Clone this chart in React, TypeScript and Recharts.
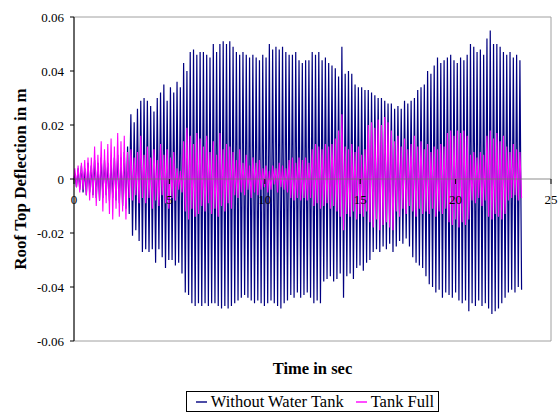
import { LineChart, Line, XAxis, YAxis, ReferenceLine, ReferenceArea, ReferenceDot } from 'recharts';

const W = 558;
const H = 419;
const PLOT_LEFT = 74;
const PLOT_RIGHT = 7;
const FONT = '"Liberation Serif", "Times New Roman", serif';

const xTicks = [0, 5, 10, 15, 20, 25];
const yTicks = [-0.06, -0.04, -0.02, 0, 0.02, 0.04, 0.06];
const seriesNames = ['Without Water Tank', 'Tank Full'];
const seriesColors = ['#000080', '#FF00FF'];

// time between a crest and the following trough (s)
const HALF_CYCLE = 0.0864;

// roof deflection crests / troughs per cycle (m)
const withoutPeaks = [
  0.002, 0.004, 0.005, 0.004, 0.006, 0.005, 0.007, 0.006, 0.008, 0.007,
  0.006, 0.007, 0.008, 0.009, 0.008, 0.010, 0.012, 0.024, 0.021, 0.026,
  0.029, 0.030, 0.029, 0.027, 0.025, 0.030, 0.032, 0.035, 0.029, 0.034,
  0.032, 0.036, 0.034, 0.043, 0.040, 0.047, 0.048, 0.046, 0.047, 0.047,
  0.046, 0.045, 0.050, 0.047, 0.050, 0.051, 0.050, 0.051, 0.049, 0.047,
  0.046, 0.047, 0.046, 0.045, 0.046, 0.045, 0.044, 0.046, 0.045, 0.050,
  0.048, 0.049, 0.048, 0.049, 0.047, 0.046, 0.046, 0.047, 0.044, 0.043,
  0.044, 0.044, 0.047, 0.046, 0.047, 0.044, 0.045, 0.043, 0.042, 0.041,
  0.038, 0.049, 0.039, 0.040, 0.039, 0.035, 0.034, 0.034, 0.033, 0.033,
  0.032, 0.031, 0.030, 0.030, 0.029, 0.028, 0.028, 0.026, 0.027, 0.026,
  0.029, 0.028, 0.029, 0.030, 0.033, 0.034, 0.035, 0.040, 0.039, 0.042,
  0.045, 0.043, 0.044, 0.045, 0.046, 0.044, 0.043, 0.045, 0.044, 0.046,
  0.050, 0.049, 0.047, 0.048, 0.046, 0.052, 0.055, 0.050, 0.050, 0.049,
  0.047, 0.046, 0.047, 0.045, 0.046, 0.044,
];
const withoutTroughs = [
  -0.003, -0.004, -0.005, -0.006, -0.005, -0.006, -0.007, -0.008, -0.007, -0.006,
  -0.008, -0.007, -0.008, -0.009, -0.010, -0.011, -0.013, -0.021, -0.019, -0.023,
  -0.027, -0.026, -0.027, -0.026, -0.031, -0.026, -0.029, -0.033, -0.030, -0.030,
  -0.032, -0.031, -0.035, -0.042, -0.043, -0.046, -0.047, -0.046, -0.047, -0.046,
  -0.047, -0.046, -0.046, -0.047, -0.048, -0.047, -0.048, -0.047, -0.046, -0.045,
  -0.044, -0.043, -0.044, -0.045, -0.046, -0.045, -0.046, -0.047, -0.046, -0.045,
  -0.046, -0.047, -0.048, -0.046, -0.045, -0.043, -0.044, -0.042, -0.044, -0.043,
  -0.042, -0.044, -0.046, -0.045, -0.046, -0.038, -0.037, -0.036, -0.038, -0.037,
  -0.035, -0.044, -0.036, -0.035, -0.037, -0.033, -0.032, -0.034, -0.031, -0.030,
  -0.027, -0.026, -0.027, -0.025, -0.026, -0.024, -0.027, -0.025, -0.023, -0.024,
  -0.022, -0.025, -0.029, -0.031, -0.032, -0.033, -0.036, -0.039, -0.040, -0.042,
  -0.041, -0.044, -0.042, -0.043, -0.044, -0.042, -0.045, -0.046, -0.045, -0.049,
  -0.046, -0.047, -0.045, -0.047, -0.046, -0.048, -0.050, -0.049, -0.048, -0.046,
  -0.044, -0.042, -0.041, -0.042, -0.040, -0.041,
];
const fullPeaks = [
  0.004, 0.005, 0.006, 0.007, 0.008, 0.008, 0.012, 0.009, 0.014, 0.011,
  0.013, 0.015, 0.012, 0.017, 0.014, 0.016, 0.010, 0.011, 0.008, 0.010,
  0.016, 0.009, 0.012, 0.008, 0.011, 0.007, 0.013, 0.009, 0.011, 0.008,
  0.010, 0.004, 0.003, 0.014, 0.019, 0.016, 0.013, 0.017, 0.015, 0.012,
  0.016, 0.010, 0.014, 0.009, 0.017, 0.011, 0.013, 0.012, 0.010, 0.007,
  0.011, 0.006, 0.009, 0.005, 0.008, 0.006, 0.007, 0.004, 0.005, 0.003,
  0.005, 0.004, 0.006, 0.005, 0.004, 0.007, 0.008, 0.006, 0.008, 0.007,
  0.008, 0.006, 0.011, 0.013, 0.012, 0.011, 0.013, 0.012, 0.013, 0.015,
  0.018, 0.024, 0.012, 0.011, 0.013, 0.010, 0.012, 0.009, 0.011, 0.020,
  0.021, 0.019, 0.022, 0.020, 0.023, 0.021, 0.018, 0.014, 0.016, 0.012,
  0.015, 0.011, 0.013, 0.016, 0.012, 0.014, 0.011, 0.013, 0.010, 0.012,
  0.011, 0.013, 0.012, 0.017, 0.018, 0.016, 0.018, 0.017, 0.018, 0.016,
  0.009, 0.010, 0.008, 0.010, 0.009, 0.016, 0.018, 0.015, 0.017, 0.014,
  0.016, 0.012, 0.010, 0.013, 0.011, 0.010,
];
const fullTroughs = [
  -0.003, -0.005, -0.004, -0.006, -0.008, -0.007, -0.010, -0.008, -0.012, -0.009,
  -0.013, -0.015, -0.011, -0.014, -0.012, -0.015, -0.007, -0.008, -0.006, -0.009,
  -0.007, -0.009, -0.007, -0.011, -0.008, -0.010, -0.006, -0.009, -0.011, -0.007,
  -0.008, -0.004, -0.005, -0.012, -0.015, -0.011, -0.014, -0.013, -0.010, -0.012,
  -0.009, -0.013, -0.011, -0.014, -0.010, -0.012, -0.009, -0.011, -0.006, -0.007,
  -0.005, -0.006, -0.004, -0.007, -0.005, -0.006, -0.004, -0.003, -0.005, -0.004,
  -0.002, -0.005, -0.003, -0.004, -0.005, -0.007, -0.008, -0.007, -0.008, -0.007,
  -0.008, -0.007, -0.010, -0.009, -0.011, -0.010, -0.009, -0.011, -0.010, -0.012,
  -0.014, -0.019, -0.013, -0.014, -0.012, -0.015, -0.013, -0.014, -0.012, -0.016,
  -0.018, -0.015, -0.019, -0.017, -0.016, -0.018, -0.019, -0.012, -0.014, -0.011,
  -0.013, -0.010, -0.012, -0.014, -0.011, -0.013, -0.012, -0.013, -0.011, -0.014,
  -0.012, -0.013, -0.011, -0.016, -0.017, -0.015, -0.018, -0.016, -0.017, -0.015,
  -0.008, -0.009, -0.007, -0.010, -0.008, -0.014, -0.015, -0.013, -0.014, -0.015,
  -0.013, -0.008, -0.007, -0.006, -0.008, -0.007,
];

type Row = { t: number; without: number; full: number };

const buildRows = (): Row[] => {
  const rows: Row[] = [{ t: 0, without: 0, full: 0 }];
  withoutPeaks.forEach((peak, k) => {
    rows.push({ t: +((2 * k + 0.5) * HALF_CYCLE).toFixed(4), without: peak, full: fullPeaks[k] });
    rows.push({ t: +((2 * k + 1.5) * HALF_CYCLE).toFixed(4), without: withoutTroughs[k], full: fullTroughs[k] });
  });
  return rows;
};

const data = buildRows();

// x axis crosses at y = 0, so its ticks are drawn through the scales as dots
const ZeroAxisTick = (props: any) => {
  const { cx, cy, label } = props;
  if (cx == null || cy == null) return null;
  return (
    <g>
      <line x1={cx} y1={cy} x2={cx} y2={cy + 5} stroke="#000" />
      <text x={cx} y={cy + 25} textAnchor="middle" fontSize={13} fontFamily={FONT} fill="#000">
        {label}
      </text>
    </g>
  );
};

const YTitle = (props: any) => {
  const { viewBox } = props;
  const cx = viewBox.x + 20;
  const cy = viewBox.y + viewBox.height / 2;
  return (
    <text
      x={cx}
      y={cy}
      transform={`rotate(-90 ${cx} ${cy})`}
      textAnchor="middle"
      dominantBaseline="central"
      fontSize={17}
      fontWeight="bold"
      fontFamily={FONT}
      fill="#000"
    >
      Roof Top Deflection in m
    </text>
  );
};

const XTitle = (props: any) => {
  const { viewBox } = props;
  return (
    <text
      x={viewBox.x + viewBox.width / 2}
      y={viewBox.y + 33}
      textAnchor="middle"
      fontSize={16.5}
      fontWeight="bold"
      fontFamily={FONT}
      fill="#000"
    >
      Time in sec
    </text>
  );
};

export default function App() {
  return (
    <div style={{ position: 'absolute', left: 0, top: 0, width: W, height: H, background: '#fff', fontFamily: FONT }}>
      <LineChart width={W} height={H} data={data} margin={{ top: 17, right: PLOT_RIGHT, bottom: 38, left: 0 }}>
        <ReferenceArea x1={0} x2={25} y1={-0.06} y2={0.06} fill="none" stroke="#a0a0a0" />
        <XAxis
          dataKey="t"
          type="number"
          domain={[0, 25]}
          ticks={xTicks}
          tick={false}
          tickLine={false}
          axisLine={false}
          height={40}
          label={XTitle}
        />
        <YAxis
          type="number"
          domain={[-0.06, 0.06]}
          ticks={yTicks}
          interval={0}
          width={PLOT_LEFT}
          tickSize={4}
          tickMargin={6}
          axisLine={{ stroke: '#000' }}
          tickLine={{ stroke: '#000' }}
          tick={{ fill: '#000', fontSize: 13, fontFamily: FONT }}
          label={YTitle}
        />
        <Line
          type="linear"
          dataKey="without"
          name={seriesNames[0]}
          stroke={seriesColors[0]}
          strokeWidth={1.2}
          dot={false}
          isAnimationActive={false}
        />
        <Line
          type="linear"
          dataKey="full"
          name={seriesNames[1]}
          stroke={seriesColors[1]}
          strokeWidth={1.1}
          dot={false}
          isAnimationActive={false}
        />
        <ReferenceLine y={0} stroke="#707070" strokeOpacity={0.8} />
        {xTicks.map(v => (
          <ReferenceDot
            key={v}
            x={v}
            y={0}
            r={0}
            shape={(p: any) => <ZeroAxisTick {...p} label={String(v)} />}
          />
        ))}
      </LineChart>
      <div
        style={{
          position: 'absolute',
          top: 391,
          left: PLOT_LEFT,
          width: W - PLOT_LEFT - PLOT_RIGHT,
          display: 'flex',
          justifyContent: 'center',
        }}
      >
        <div
          style={{
            display: 'flex',
            alignItems: 'center',
            border: '1px solid #000',
            height: 21,
            boxSizing: 'border-box',
            padding: '0 4px 0 9px',
            fontSize: 16.5,
            lineHeight: '19px',
            color: '#000',
          }}
        >
          {seriesNames.map((name, i) => (
            <div key={name} style={{ display: 'flex', alignItems: 'center', marginRight: i === 0 ? 12 : 0 }}>
              <div style={{ width: 11, height: 2, background: seriesColors[i], opacity: 0.7, marginRight: 4 }} />
              <span>{name}</span>
            </div>
          ))}
        </div>
      </div>
    </div>
  );
}
